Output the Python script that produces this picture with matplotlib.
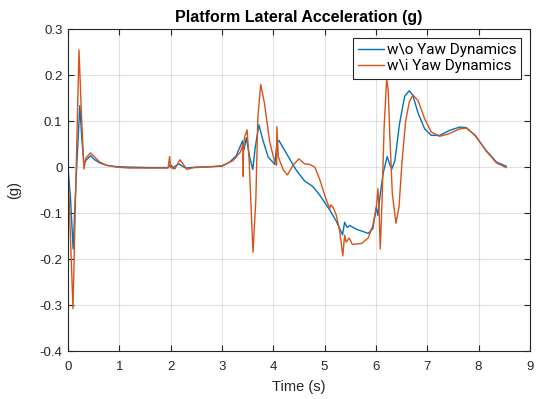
"""Platform lateral acceleration, with and without yaw dynamics."""
import matplotlib
matplotlib.use("Agg")
import matplotlib.pyplot as plt

plt.rcParams['font.family'] = ['Liberation Sans', 'DejaVu Sans']

# w\o yaw dynamics
t_wo = [0, 0.05, 0.1, 0.16, 0.23, 0.27, 0.31, 0.36, 0.44, 0.52, 0.62, 0.75, 0.95,
        1.2, 1.6, 1.95, 2.0, 2.05, 2.16, 2.29, 2.5, 2.8, 3.0, 3.15, 3.28, 3.40,
        3.43, 3.475, 3.54, 3.60, 3.65, 3.72, 3.80, 3.90, 4.03, 4.07, 4.11, 4.26,
        4.45, 4.61, 4.77, 4.90, 5.02, 5.10, 5.23, 5.35, 5.39, 5.44, 5.49, 5.62,
        5.75, 5.85, 5.94, 6.01, 6.04, 6.07, 6.14, 6.22, 6.27, 6.31, 6.37, 6.46,
        6.56, 6.65, 6.72, 6.82, 6.95, 7.08, 7.24, 7.44, 7.63, 7.76, 7.93, 8.15,
        8.35, 8.54]
a_wo = [0, -0.07, -0.178, -0.02, 0.134, 0.06, 0.007, 0.016, 0.025, 0.016, 0.009,
        0.004, 0.001, 0.0, -0.001, -0.001, 0.005, -0.001, 0.007, -0.002, 0.0,
        0.001, 0.002, 0.011, 0.025, 0.057, 0.038, 0.064, 0.022, -0.005, 0.044,
        0.092, 0.058, 0.022, 0.006, 0.052, 0.058, 0.029, -0.007, -0.030, -0.042,
        -0.060, -0.080, -0.093, -0.118, -0.147, -0.120, -0.131, -0.127, -0.135,
        -0.140, -0.144, -0.134, -0.087, -0.105, -0.072, -0.014, 0.023, 0.006,
        -0.004, 0.014, 0.094, 0.154, 0.166, 0.156, 0.118, 0.083, 0.069, 0.069,
        0.080, 0.087, 0.086, 0.069, 0.036, 0.011, 0.002]

# w\i yaw dynamics
t_wi = [0, 0.05, 0.097, 0.15, 0.214, 0.26, 0.31, 0.35, 0.44, 0.52, 0.62, 0.75,
        0.95, 1.2, 1.6, 1.95, 1.98, 2.0, 2.08, 2.18, 2.32, 2.45, 2.7, 3.0, 3.215,
        3.36, 3.41, 3.415, 3.42, 3.44, 3.49, 3.53, 3.57, 3.605, 3.66, 3.70, 3.755,
        3.83, 3.93, 4.03, 4.065, 4.07, 4.10, 4.19, 4.275, 4.385, 4.50, 4.61, 4.71,
        4.81, 4.90, 5.035, 5.10, 5.12, 5.165, 5.23, 5.295, 5.355, 5.39, 5.42,
        5.48, 5.54, 5.72, 5.85, 5.94, 6.01, 6.04, 6.06, 6.085, 6.12, 6.16, 6.21,
        6.24, 6.27, 6.32, 6.39, 6.45, 6.51, 6.58, 6.65, 6.72, 6.82, 6.95, 7.08,
        7.24, 7.41, 7.63, 7.76, 7.93, 8.15, 8.35, 8.54]
a_wi = [0, -0.16, -0.308, -0.05, 0.255, 0.12, -0.004, 0.02, 0.031, 0.022, 0.011,
        0.004, 0.0, -0.002, -0.002, -0.002, 0.023, -0.001, -0.004, 0.016, -0.005,
        -0.001, 0.0, 0.003, 0.014, 0.033, 0.05, -0.02, 0.045, 0.065, 0.081, 0.014,
        -0.094, -0.185, -0.072, 0.109, 0.180, 0.138, 0.055, 0.010, 0.004, 0.088,
        0.022, -0.005, -0.017, 0.004, 0.018, 0.007, 0.006, 0.0, -0.025, -0.072,
        -0.09, -0.082, -0.087, -0.105, -0.140, -0.193, -0.148, -0.163, -0.154,
        -0.168, -0.166, -0.154, -0.127, -0.085, -0.047, -0.09, -0.178, -0.072,
        0.087, 0.192, 0.167, 0.073, -0.058, -0.122, -0.087, 0.014, 0.101, 0.141,
        0.157, 0.145, 0.105, 0.076, 0.067, 0.072, 0.083, 0.085, 0.070, 0.035,
        0.009, -0.001]

bs = chr(92)  # backslash, as in the original legend
labels = ['w' + bs + 'o Yaw Dynamics', 'w' + bs + 'i Yaw Dynamics']
x_ticks = [0, 1, 2, 3, 4, 5, 6, 7, 8, 9]
y_ticks = [-0.4, -0.3, -0.2, -0.1, 0, 0.1, 0.2, 0.3]
y_labels = ['-0.4', '-0.3', '-0.2', '-0.1', '0', '0.1', '0.2', '0.3']

dark = '#262626'
fig = plt.figure(figsize=(5.44, 3.99), dpi=100)
ax = fig.add_axes([0.125, 0.12, 0.849, 0.807])

ax.plot(t_wo, a_wo, color='#0072BD', lw=1.0, label=labels[0])
ax.plot(t_wi, a_wi, color='#D95319', lw=1.0, label=labels[1])

ax.set_xlim(0, 9)
ax.set_ylim(-0.4, 0.3)
ax.set_xticks(x_ticks)
ax.set_yticks(y_ticks)
ax.set_yticklabels(y_labels)
ax.grid(True, color='#262626', alpha=0.13, lw=0.8)
ax.tick_params(direction='in', top=True, right=True, length=4, width=0.8,
               labelsize=9.5, colors=dark)
ax.tick_params(axis='x', pad=7)
ax.tick_params(axis='y', pad=4)
for s in ax.spines.values():
    s.set_color(dark)
    s.set_linewidth(0.8)

ax.set_xlabel('Time (s)', fontsize=10.5, color=dark, labelpad=5)
ax.set_ylabel('(g)', fontsize=10.5, color=dark, labelpad=13)
ax.set_title('Platform Lateral Acceleration (g)', fontsize=11.5, fontweight='bold',
             pad=5)

# Liberation Sans draws the backslash on top of the "w", so use Roboto here
leg = ax.legend(loc='upper right', frameon=True, fancybox=False,
                prop={'family': 'Roboto', 'size': 11},
                handlelength=1.7, handletextpad=0.15, borderpad=0.35,
                labelspacing=0.15, borderaxespad=0.55)
leg.get_frame().set_edgecolor(dark)
leg.get_frame().set_linewidth(0.8)
leg.get_frame().set_alpha(1)

fig.savefig('out.png', dpi=100)
